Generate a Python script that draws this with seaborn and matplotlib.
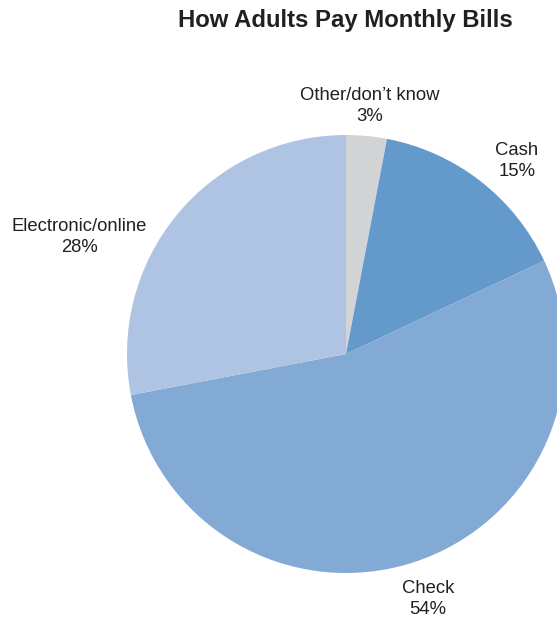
import matplotlib
matplotlib.use("Agg")
import matplotlib.pyplot as plt
import seaborn as sns

# Share of adults by the way they pay monthly bills
categories = ["Other/don\u2019t know", "Cash", "Check", "Electronic/online"]
shares = [3, 15, 54, 28]
colors = ["#d1d3d4", "#6399cb", "#83a9d5", "#afc4e3"]
title = "How Adults Pay Monthly Bills"

sns.set_theme(style="white")
plt.rcParams["font.family"] = ["Liberation Sans", "DejaVu Sans"]

W, H = 557, 620
fig = plt.figure(figsize=(W / 100, H / 100), dpi=100)
ax = fig.add_axes([0, 0, 1, 1])

ax.pie(shares, colors=colors, startangle=90, counterclock=False,
       center=(346, H - 354), radius=219, frame=True,
       wedgeprops=dict(linewidth=0))
ax.set_xlim(0, W)
ax.set_ylim(0, H)
ax.set_aspect("equal")
ax.axis("off")

# Label placement for each slice (pixel layout, y measured from the top)
label_pos = [(370, 106), (517, 161), (428, 599), (79, 237)]
for name, val, (x, y) in zip(categories, shares, label_pos):
    ax.text(x, H - y, f"{name}\n{val}%", ha="center", va="center",
            fontsize=13.3, color="#231f20", linespacing=1.32)

fig.text(345 / W, 1 - 20 / H, title, ha="center", va="center",
         fontsize=17.2, fontweight="bold", color="#231f20")

fig.savefig("out.png", dpi=100)
